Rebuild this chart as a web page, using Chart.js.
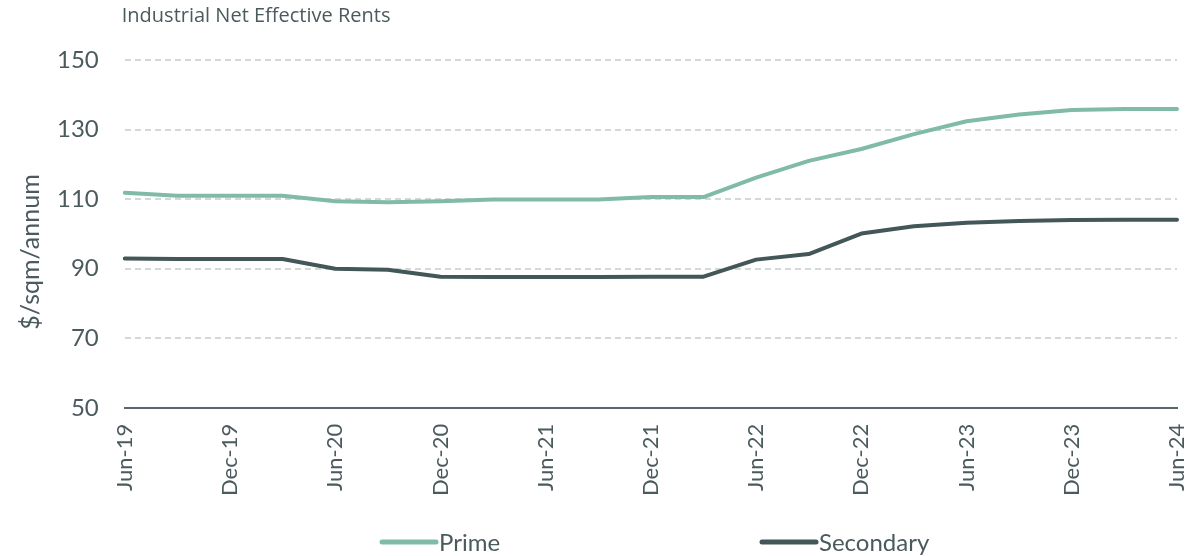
<!DOCTYPE html>
<html>
<head>
<meta charset="utf-8">
<script src="https://cdn.jsdelivr.net/npm/chart.js@4.4.1/dist/chart.umd.min.js"></script>
<style>
  html, body { margin: 0; padding: 0; background: #ffffff; }
  #wrap { width: 1199px; height: 556px; position: relative; }
</style>
</head>
<body>
<div id="wrap"><canvas id="c" width="1199" height="556"></canvas></div>
<script>
const chartTitle = 'Industrial Net Effective Rents';
const yAxisTitle = '$/sqm/annum';
const quarters = ['Jun-19','Sep-19','Dec-19','Mar-20','Jun-20','Sep-20','Dec-20','Mar-21','Jun-21','Sep-21','Dec-21','Mar-22','Jun-22','Sep-22','Dec-22','Mar-23','Jun-23','Sep-23','Dec-23','Mar-24','Jun-24'];
const seriesNames = ['Prime', 'Secondary'];
const primeRents = [111.8,111.0,111.0,111.0,109.4,109.1,109.4,109.9,109.9,109.9,110.6,110.6,116.2,121.0,124.4,128.7,132.4,134.3,135.6,135.9,135.9];
const secondaryRents = [92.9,92.8,92.8,92.8,90.0,89.7,87.7,87.6,87.6,87.6,87.7,87.7,92.6,94.2,100.1,102.2,103.2,103.7,104.0,104.1,104.1];
const yMin = 50, yMax = 150, yStep = 20;

const textColor = '#4b5a5c';
const primeColor = '#80bbaa';
const secondaryColor = '#435658';

const textPlugin = {
  id: 'extraText',
  afterDraw(chart) {
    const ctx = chart.ctx;
    ctx.save();
    ctx.font = '20px "Open Sans"';
    ctx.fillStyle = textColor;
    ctx.textAlign = 'left';
    ctx.textBaseline = 'middle';
    ctx.fillText(chartTitle, chart.chartArea.left - 3, 16);
    // y axis title
    ctx.translate(31, 252);
    ctx.rotate(-Math.PI / 2);
    ctx.font = '25px Lato';
    ctx.textAlign = 'center';
    ctx.fillText(yAxisTitle, 0, 0);
    ctx.restore();
  }
};

const legendPlugin = {
  id: 'spreadLegend',
  afterDraw(chart) {
    const ctx = chart.ctx;
    const y = 542;
    const starts = [380, 760];
    ctx.save();
    ctx.font = '24px Lato';
    ctx.textBaseline = 'middle';
    ctx.textAlign = 'left';
    chart.data.datasets.forEach((ds, i) => {
      const x0 = starts[i];
      ctx.strokeStyle = ds.borderColor;
      ctx.lineWidth = 5;
      ctx.lineCap = 'round';
      ctx.beginPath();
      ctx.moveTo(x0 + 2, y);
      ctx.lineTo(x0 + 56, y);
      ctx.stroke();
      ctx.fillStyle = textColor;
      ctx.fillText(ds.label, x0 + 59, y + 1);
    });
    ctx.restore();
  }
};

new Chart(document.getElementById('c'), {
  type: 'line',
  data: {
    labels: quarters,
    datasets: [
      { label: seriesNames[0], data: primeRents, borderColor: primeColor, backgroundColor: primeColor },
      { label: seriesNames[1], data: secondaryRents, borderColor: secondaryColor, backgroundColor: secondaryColor }
    ]
  },
  options: {
    responsive: false,
    animation: false,
    devicePixelRatio: 1,
    layout: { padding: { top: 60, right: 22, bottom: 44, left: 31 } },
    elements: {
      line: { borderWidth: 4, tension: 0, borderCapStyle: 'round', borderJoinStyle: 'round' },
      point: { radius: 0, hoverRadius: 0 }
    },
    plugins: {
      legend: { display: false },
      title: { display: false },
      tooltip: { enabled: false }
    },
    scales: {
      x: {
        offset: false,
        grid: { display: false, drawTicks: false },
        border: { display: true, color: '#59666a', width: 2 },
        afterFit(scale) { scale.paddingRight = 0; scale.paddingLeft = 0; },
        ticks: {
          autoSkip: false,
          minRotation: 90,
          maxRotation: 90,
          padding: 16,
          color: textColor,
          font: { family: 'Lato', size: 22 },
          callback: function(v, i) { return i % 2 === 0 ? this.getLabelForValue(v) : ''; }
        }
      },
      y: {
        min: yMin,
        max: yMax,
        ticks: { stepSize: yStep, padding: 26, color: textColor, font: { family: 'Lato', size: 24 } },
        grid: { color: '#d3d8d8', lineWidth: 2, drawTicks: false },
        border: { display: false, dash: [6, 4] },
        title: { display: false }
      }
    }
  },
  plugins: [textPlugin, legendPlugin]
});
</script>
</body>
</html>
